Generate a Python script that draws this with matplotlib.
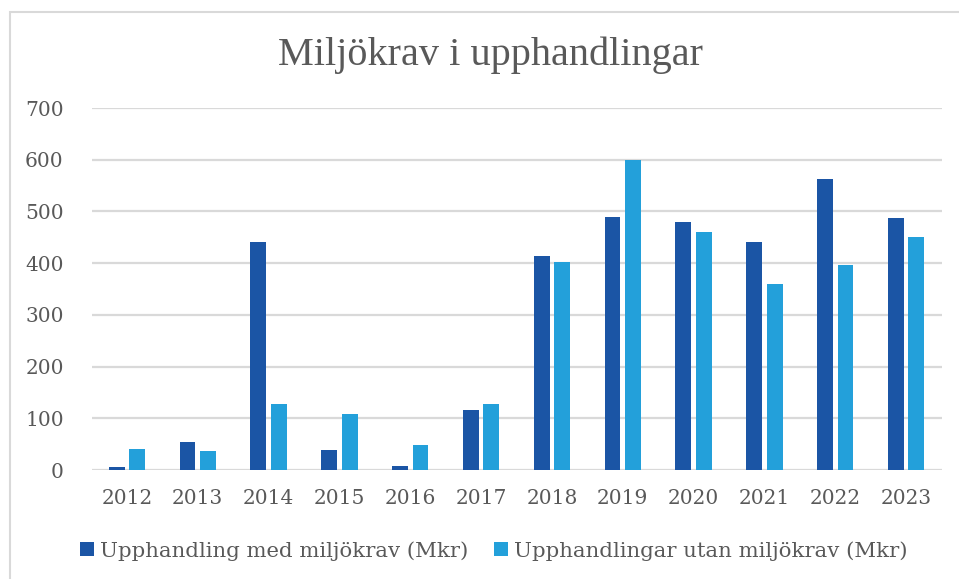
import numpy as np
import matplotlib.pyplot as plt
from matplotlib.patches import Rectangle

years = ['2012', '2013', '2014', '2015', '2016', '2017',
         '2018', '2019', '2020', '2021', '2022', '2023']
med_miljokrav = [6, 55, 440, 39, 8, 116, 413, 490, 480, 440, 563, 487]
utan_miljokrav = [41, 37, 128, 109, 49, 128, 402, 599, 460, 360, 397, 451]
yticks = [0, 100, 200, 300, 400, 500, 600, 700]

dark = '#1B55A5'
light = '#23A0DA'
txt = '#595959'
grid = '#D9D9D9'

plt.rcParams['font.family'] = ['DejaVu Serif']

W, H = 959, 579
fig = plt.figure(figsize=(W / 100, H / 100), dpi=100)

# light frame round the chart (runs off the right and bottom)
fig.patches.append(Rectangle((10 / W, -0.05), 1.0, 1 - 12 / H + 0.05,
                             transform=fig.transFigure, fill=False,
                             edgecolor='#D9D9D9', linewidth=1.5))

ax = fig.add_axes([91.5 / W, 1 - 470 / H, 850 / W, (470 - 108) / H])

x = np.arange(len(years))
bw = 0.225
off = 0.145
ax.bar(x - off, med_miljokrav, bw, color=dark, label='Upphandling med miljökrav (Mkr)', zorder=3)
ax.bar(x + off, utan_miljokrav, bw, color=light, label='Upphandlingar utan miljökrav (Mkr)', zorder=3)

ax.set_xlim(-0.5, len(years) - 0.5)
ax.set_ylim(0, 700)
ax.set_yticks(yticks)
ax.set_yticklabels([str(v) for v in yticks])
ax.set_xticks(x)
ax.set_xticklabels(years)
for y in yticks:
    ax.axhline(y, color=grid, linewidth=1.6, zorder=1)

for s in ax.spines.values():
    s.set_visible(False)
ax.tick_params(axis='both', length=0, labelsize=14.5, colors=txt)
ax.tick_params(axis='y', pad=20)
ax.tick_params(axis='x', pad=14)

fig.text(490 / W, 1 - 55 / H, 'Miljökrav i upphandlingar', ha='center', va='center',
         fontsize=29, color=txt, family=['Liberation Serif'])

fig.legend(loc='center', bbox_to_anchor=(494 / W, 1 - 551 / H),
           ncol=2, frameon=False, fontsize=15.3, labelcolor=txt,
           handlelength=0.65, handleheight=0.65, handletextpad=0.3, columnspacing=1.2)

fig.savefig('out.png', dpi=100)
